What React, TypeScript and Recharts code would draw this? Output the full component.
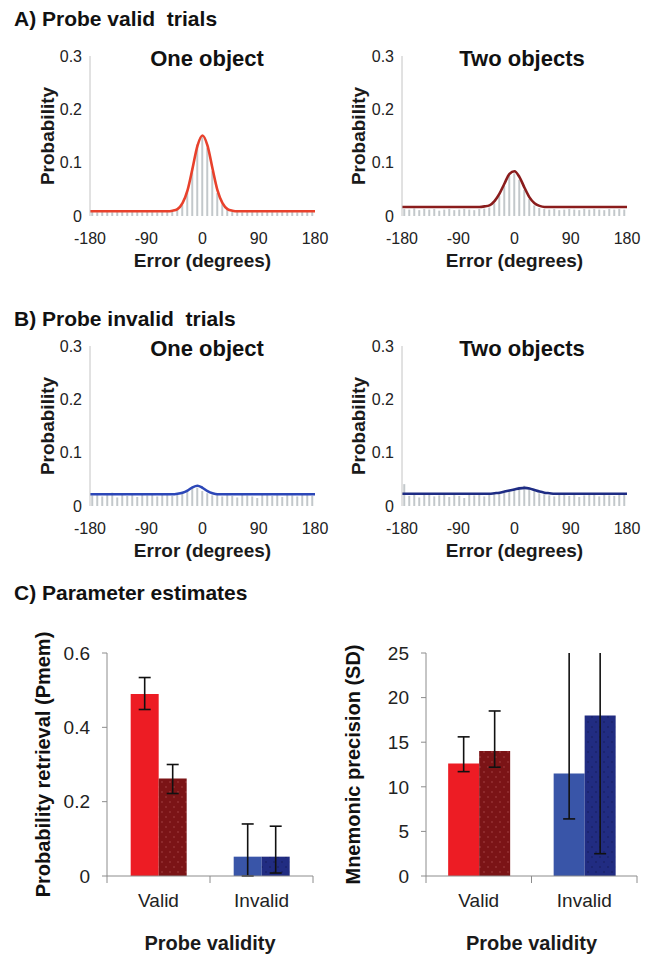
import React from "react"
import { Bar, BarChart, Cell, ComposedChart, ErrorBar, Label, Line, XAxis, YAxis } from "recharts"

// error bins (degrees), 8 deg wide
const binCenters = [
  -176, -168, -160, -152, -144, -136, -128, -120, -112, -104, -96, -88, -80, -72, -64, -56, -48, -40, -32, -24, -16, -8,
  0, 8, 16, 24, 32, 40, 48, 56, 64, 72, 80, 88, 96, 104, 112, 120, 128, 136, 144, 152, 160, 168, 176,
]
// fitted curves are sampled at the bin centres plus both ends
const fitX = [-180, ...binCenters, 180]

const histValidOne = [
  0.008, 0.007, 0.009, 0.008, 0.007, 0.008, 0.009, 0.007, 0.008, 0.009, 0.007, 0.008, 0.008, 0.007, 0.009, 0.008, 0.008,
  0.012, 0.021, 0.046, 0.09, 0.134, 0.148, 0.128, 0.084, 0.043, 0.022, 0.012,
  0.009, 0.008, 0.007, 0.009, 0.008, 0.008, 0.007, 0.009, 0.008, 0.007, 0.008, 0.009, 0.008, 0.007, 0.008, 0.009, 0.008,
]
const fitValidOne = [
  0.009,
  0.009, 0.009, 0.009, 0.009, 0.009, 0.009, 0.009, 0.009, 0.009, 0.009, 0.009, 0.009, 0.009, 0.009, 0.009, 0.009,
  0.01, 0.013, 0.024, 0.048, 0.089, 0.132, 0.151, 0.132, 0.089, 0.048, 0.024, 0.013, 0.01,
  0.009, 0.009, 0.009, 0.009, 0.009, 0.009, 0.009, 0.009, 0.009, 0.009, 0.009, 0.009, 0.009, 0.009, 0.009, 0.009,
  0.009,
]

const histValidTwo = [
  0.013, 0.012, 0.014, 0.011, 0.013, 0.012, 0.013, 0.01, 0.012, 0.013, 0.011, 0.012, 0.013, 0.012, 0.011, 0.013, 0.014,
  0.016, 0.024, 0.038, 0.056, 0.075, 0.08, 0.068, 0.049, 0.032, 0.02, 0.015,
  0.013, 0.012, 0.013, 0.011, 0.012, 0.013, 0.012, 0.011, 0.013, 0.012, 0.013, 0.012, 0.011, 0.013, 0.012, 0.013, 0.012,
]
const fitValidTwo = [
  0.017,
  0.017, 0.017, 0.017, 0.017, 0.017, 0.017, 0.017, 0.017, 0.017, 0.017, 0.017, 0.017, 0.017, 0.017, 0.017, 0.017,
  0.018, 0.02, 0.028, 0.042, 0.061, 0.079, 0.084, 0.073, 0.053, 0.035, 0.024, 0.019, 0.017,
  0.017, 0.017, 0.017, 0.017, 0.017, 0.017, 0.017, 0.017, 0.017, 0.017, 0.017, 0.017, 0.017, 0.017, 0.017, 0.017,
  0.017,
]

const histInvalidOne = [
  0.02, 0.024, 0.018, 0.022, 0.025, 0.016, 0.021, 0.019, 0.023, 0.017, 0.022, 0.02, 0.024, 0.018, 0.021, 0.023, 0.019,
  0.022, 0.026, 0.03, 0.036, 0.034, 0.028, 0.024, 0.02, 0.022, 0.018, 0.021,
  0.019, 0.016, 0.022, 0.02, 0.018, 0.015, 0.021, 0.023, 0.019, 0.022, 0.017, 0.024, 0.02, 0.018, 0.022, 0.021, 0.019,
]
const fitInvalidOne = [
  0.022,
  0.022, 0.022, 0.022, 0.022, 0.022, 0.022, 0.022, 0.022, 0.022, 0.022, 0.022, 0.022, 0.022, 0.022, 0.022, 0.022, 0.022,
  0.023, 0.025, 0.029, 0.035, 0.038, 0.034, 0.028, 0.024, 0.022,
  0.022, 0.022, 0.022, 0.022, 0.022, 0.022, 0.022, 0.022, 0.022, 0.022, 0.022, 0.022, 0.022, 0.022, 0.022, 0.022, 0.022,
  0.022, 0.022,
  0.022,
]

const histInvalidTwo = [
  0.041, 0.019, 0.022, 0.016, 0.021, 0.024, 0.018, 0.02, 0.023, 0.017, 0.021, 0.019, 0.015, 0.022, 0.02, 0.024, 0.018,
  0.021, 0.023, 0.025, 0.027, 0.03, 0.033, 0.036, 0.038, 0.034, 0.029, 0.024,
  0.022, 0.02, 0.018, 0.023, 0.021, 0.019, 0.022, 0.017, 0.02, 0.023, 0.021, 0.018, 0.022, 0.02, 0.019, 0.021, 0.022,
]
const fitInvalidTwo = [
  0.023,
  0.023, 0.023, 0.023, 0.023, 0.023, 0.023, 0.023, 0.023, 0.023, 0.023, 0.023, 0.023, 0.023, 0.023, 0.023, 0.023, 0.023,
  0.023,
  0.024, 0.025, 0.027, 0.029, 0.031, 0.033, 0.034, 0.033, 0.03, 0.027, 0.025, 0.024,
  0.023, 0.023, 0.023, 0.023, 0.023, 0.023, 0.023, 0.023, 0.023, 0.023, 0.023, 0.023, 0.023, 0.023, 0.023,
  0.023,
]

const probTicks = [0, 0.1, 0.2, 0.3]
const errorTicks = [-180, -90, 0, 90, 180]

// parameter estimates
const validity = ["Valid", "Invalid"]
const pmemOne = [0.49, 0.052]
const pmemOneErr = [[0.042, 0.044], [0.052, 0.088]]
const pmemTwo = [0.262, 0.052]
const pmemTwoErr = [[0.04, 0.038], [0.044, 0.082]]
const pmemTicks = [0, 0.2, 0.4, 0.6]

const sdOne = [12.6, 11.5]
const sdOneErr = [[0.9, 3.0], [5.1, 15]]
const sdTwo = [14.0, 18.0]
const sdTwoErr = [[1.8, 4.5], [15.5, 10]]
const sdTicks = [0, 5, 10, 15, 20, 25]

const FONT = "'Liberation Sans', Arial, sans-serif"
const AXIS_GRAY = "#8c8c8c"
const RED = "#ed1c24"
const BLUE = "#3955a8"

function buildDist(hist: number[], fit: number[]) {
  return fitX.map((x, k) => ({
    x,
    hist: k === 0 || k === fitX.length - 1 ? null : hist[k - 1],
    fit: fit[k],
  }))
}

function buildBars(one: number[], oneErr: number[][], two: number[], twoErr: number[][]) {
  return validity.map((name, i) => ({ name, one: one[i], oneErr: oneErr[i], two: two[i], twoErr: twoErr[i] }))
}

type DistProps = {
  left: number
  top: number
  width: number
  marginLeft: number
  marginRight: number
  labelOffset: number
  hist: number[]
  fit: number[]
  color: string
}

function DistPanel({ left, top, width, marginLeft, marginRight, labelOffset, hist, fit, color }: DistProps) {
  return (
    <div style={{ position: "absolute", left, top }}>
      <ComposedChart
        width={width}
        height={245}
        data={buildDist(hist, fit)}
        margin={{ top: 26, right: marginRight, left: marginLeft, bottom: 0 }}
      >
        <XAxis
          dataKey="x"
          type="number"
          domain={[-180, 180]}
          ticks={errorTicks}
          axisLine={false}
          tickLine={false}
          tickMargin={11}
          height={59}
          tick={{ fontSize: 16, fill: "#222" }}
        >
          <Label
            value="Error (degrees)"
            position="insideBottom"
            offset={8}
            style={{ fontSize: 19, fontWeight: "bold", fill: "#1a1a1a" }}
          />
        </XAxis>
        <YAxis
          domain={[0, 0.3]}
          ticks={probTicks}
          width={53}
          axisLine={{ stroke: "#c4c4c4" }}
          tickLine={false}
          tick={{ fontSize: 16, fill: "#222" }}
        >
          <Label
            value="Probability"
            angle={-90}
            position="insideLeft"
            offset={labelOffset}
            style={{ textAnchor: "middle", fontSize: 19, fontWeight: "bold", fill: "#1a1a1a" }}
          />
        </YAxis>
        <Bar dataKey="hist" fill="#c3c8cb" barSize={2} isAnimationActive={false} />
        <Line
          dataKey="fit"
          type="monotone"
          stroke={color}
          strokeWidth={2.6}
          dot={false}
          connectNulls
          isAnimationActive={false}
        />
      </ComposedChart>
    </div>
  )
}

function CategoryTick(props: any) {
  const { x, y, payload, index, visibleTicksCount, width } = props
  const half = payload.offset || width / (2 * visibleTicksCount)
  return (
    <g>
      <line x1={x - half} x2={x - half} y1={y} y2={y + 7} stroke={AXIS_GRAY} />
      {index === visibleTicksCount - 1 && <line x1={x + half} x2={x + half} y1={y} y2={y + 7} stroke={AXIS_GRAY} />}
      <text x={x} y={y + 31} textAnchor="middle" fontSize={19} fill="#222">
        {payload.value}
      </text>
    </g>
  )
}

type EstimateProps = {
  left: number
  width: number
  marginLeft: number
  yWidth: number
  marginRight: number
  gap: string
  data: any[]
  domain: [number, number]
  ticks: number[]
  label: string
  errorClip?: string
}

function EstimatePanel({ left, width, marginLeft, yWidth, marginRight, gap, data, domain, ticks, label, errorClip }: EstimateProps) {
  return (
    <div style={{ position: "absolute", left, top: 610 }}>
      <BarChart
        width={width}
        height={345}
        data={data}
        barCategoryGap={gap}
        barGap={0}
        margin={{ top: 43, right: marginRight, left: marginLeft, bottom: 0 }}
      >
        <XAxis
          dataKey="name"
          height={79}
          axisLine={{ stroke: AXIS_GRAY }}
          tickLine={false}
          tickSize={0}
          tickMargin={0}
          tick={<CategoryTick />}
        >
          <Label
            value="Probe validity"
            position="insideBottom"
            offset={5}
            style={{ fontSize: 20, fontWeight: "bold", fill: "#1a1a1a" }}
          />
        </XAxis>
        <YAxis
          domain={domain}
          ticks={ticks}
          allowDataOverflow
          width={yWidth}
          axisLine={{ stroke: AXIS_GRAY }}
          tickLine={{ stroke: AXIS_GRAY }}
          tickSize={5}
          tickMargin={12}
          tick={{ fontSize: 19, fill: "#222" }}
        >
          <Label
            value={label}
            angle={-90}
            position="insideLeft"
            offset={13}
            style={{ textAnchor: "middle", fontSize: 20, fontWeight: "bold", fill: "#111" }}
          />
        </YAxis>
        <Bar dataKey="one" isAnimationActive={false}>
          <Cell fill={RED} />
          <Cell fill={BLUE} />
          <ErrorBar dataKey="oneErr" width={6} stroke="#111" strokeWidth={1.6} clipPath={errorClip} />
        </Bar>
        <Bar dataKey="two" isAnimationActive={false}>
          <Cell fill="url(#dotsDarkRed)" />
          <Cell fill="url(#dotsDarkBlue)" />
          <ErrorBar dataKey="twoErr" width={6} stroke="#111" strokeWidth={1.6} clipPath={errorClip} />
        </Bar>
      </BarChart>
    </div>
  )
}

export default function App() {
  const heading = { fontSize: 21, fontWeight: "bold" as const, fill: "#111", whiteSpace: "pre" as const }
  const title = { fontSize: 22, fontWeight: "bold" as const, fill: "#111", textAnchor: "middle" as const }
  return (
    <div
      style={{
        position: "absolute",
        left: 0,
        top: 0,
        width: 652,
        height: 955,
        background: "#ffffff",
        fontFamily: FONT,
        overflow: "hidden",
      }}
    >
      <svg width={0} height={0} style={{ position: "absolute" }}>
        <defs>
          <pattern id="dotsDarkRed" width="8" height="10" patternUnits="userSpaceOnUse">
            <rect width="8" height="10" fill="#7b1416" />
            <circle cx="2" cy="2" r="0.8" fill="#a44346" />
            <circle cx="6" cy="7" r="0.8" fill="#a44346" />
          </pattern>
          <pattern id="dotsDarkBlue" width="8" height="10" patternUnits="userSpaceOnUse">
            <rect width="8" height="10" fill="#212c82" />
            <circle cx="2" cy="2" r="0.8" fill="#141b58" />
            <circle cx="6" cy="7" r="0.8" fill="#141b58" />
          </pattern>
          {/* keeps the long SD error bars inside the plot area (chart user space) */}
          <clipPath id="sdPlotClip" clipPathUnits="userSpaceOnUse">
            <rect x={0} y={43} width={322} height={302} />
          </clipPath>
        </defs>
      </svg>

      <DistPanel left={0} top={30} width={330} marginLeft={37} marginRight={15} labelOffset={10}
        hist={histValidOne} fit={fitValidOne} color="#e8412c" />
      <DistPanel left={330} top={30} width={322} marginLeft={19} marginRight={25} labelOffset={9}
        hist={histValidTwo} fit={fitValidTwo} color="#8a1c1c" />
      <DistPanel left={0} top={320} width={330} marginLeft={37} marginRight={15} labelOffset={10}
        hist={histInvalidOne} fit={fitInvalidOne} color="#2c47b8" />
      <DistPanel left={330} top={320} width={322} marginLeft={19} marginRight={25} labelOffset={9}
        hist={histInvalidTwo} fit={fitInvalidTwo} color="#1e2c84" />

      <EstimatePanel left={0} width={330} marginLeft={30} yWidth={77} marginRight={17} gap="23%"
        data={buildBars(pmemOne, pmemOneErr, pmemTwo, pmemTwoErr)} domain={[0, 0.6]} ticks={pmemTicks}
        label="Probability retrieval (Pmem)" />
      <EstimatePanel left={330} width={322} marginLeft={10} yWidth={86} marginRight={15} gap="21%"
        data={buildBars(sdOne, sdOneErr, sdTwo, sdTwoErr)} domain={[0, 25]} ticks={sdTicks}
        label="Mnemonic precision (SD)" errorClip="url(#sdPlotClip)" />

      <svg width={652} height={955} style={{ position: "absolute", left: 0, top: 0, pointerEvents: "none" }}>
        <text x={14} y={26} style={heading}>A) Probe valid  trials</text>
        <text x={207} y={66} style={title}>One object</text>
        <text x={522} y={66} style={title}>Two objects</text>
        <text x={14} y={326} style={heading}>B) Probe invalid  trials</text>
        <text x={207} y={356} style={title}>One object</text>
        <text x={522} y={356} style={title}>Two objects</text>
        <text x={14} y={600} style={heading}>C) Parameter estimates</text>
      </svg>
    </div>
  )
}
